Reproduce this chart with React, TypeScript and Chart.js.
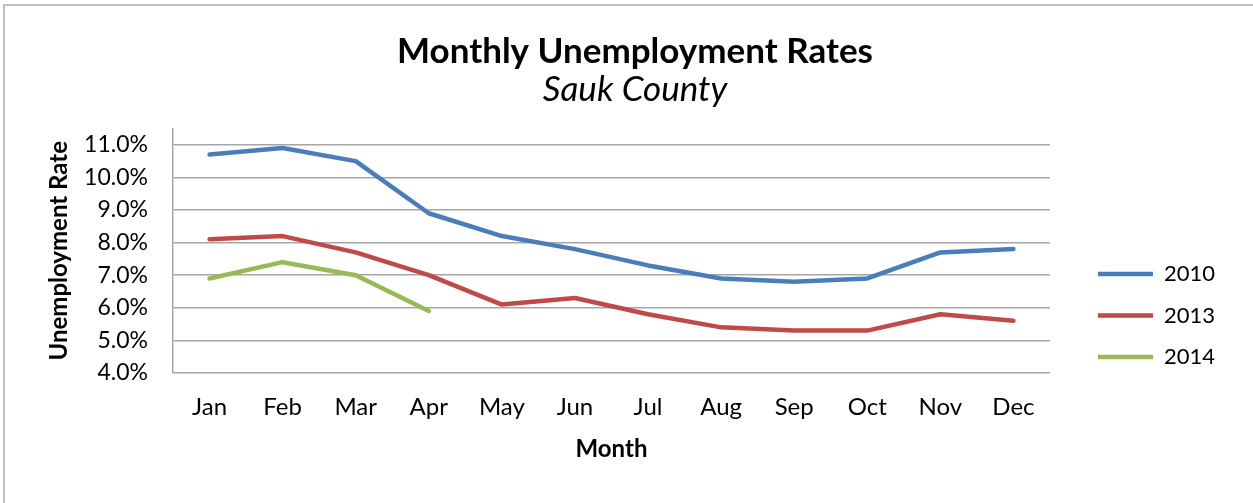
import React, { useEffect, useRef } from "react";
import { Chart, registerables } from "chart.js";

Chart.register(...registerables);

const months = ["Jan", "Feb", "Mar", "Apr", "May", "Jun", "Jul", "Aug", "Sep", "Oct", "Nov", "Dec"];
const rate2010 = [10.7, 10.9, 10.5, 8.9, 8.2, 7.8, 7.3, 6.9, 6.8, 6.9, 7.7, 7.8];
const rate2013 = [8.1, 8.2, 7.7, 7.0, 6.1, 6.3, 5.8, 5.4, 5.3, 5.3, 5.8, 5.6];
const rate2014 = [6.9, 7.4, 7.0, 5.9, null, null, null, null, null, null, null, null];
const yTicks = [4, 5, 6, 7, 8, 9, 10, 11];
const yMin = 4;
const yMax = 11.5;

const FONT = "Lato, 'Open Sans', sans-serif";

const borderPlugin = {
  id: "frameBorder",
  beforeDraw(chart: any) {
    const ctx = chart.ctx;
    ctx.save();
    ctx.fillStyle = "#ffffff";
    ctx.fillRect(0, 0, chart.width, chart.height);
    ctx.strokeStyle = "#bfbfbf";
    ctx.lineWidth = 2;
    ctx.beginPath();
    ctx.moveTo(4, chart.height);
    ctx.lineTo(4, 5);
    ctx.lineTo(chart.width, 5);
    ctx.stroke();
    ctx.restore();
  },
};

export default function App() {
  const ref = useRef<HTMLCanvasElement>(null);
  useEffect(() => {
    document.body.style.margin = "0";
    const line = (label: string, data: (number | null)[], color: string) => ({
      label,
      data,
      borderColor: color,
      backgroundColor: color,
      borderWidth: 4.5,
      borderCapStyle: "round" as const,
      borderJoinStyle: "round" as const,
      pointRadius: 0,
      tension: 0,
      spanGaps: false,
      yAxisID: "y",
    });
    const chart = new Chart(ref.current!, {
      type: "line",
      data: {
        labels: months,
        datasets: [
          line("2010", rate2010, "#4a7ebb"),
          line("2013", rate2013, "#be4b48"),
          line("2014", rate2014, "#98b954"),
        ],
      },
      options: {
        animation: false,
        responsive: false,
        maintainAspectRatio: false,
        layout: { padding: { left: 45, right: 28, top: 0, bottom: 39 } },
        plugins: {
          title: {
            display: true,
            text: "Monthly Unemployment Rates",
            color: "#000",
            font: { family: FONT, size: 35, weight: "bold", lineHeight: 1.05 },
            padding: { top: 33, bottom: 0 },
          },
          subtitle: {
            display: true,
            text: "Sauk County",
            color: "#000",
            font: { family: FONT, size: 35, style: "italic", weight: "normal", lineHeight: 1.05 },
            padding: { top: 2, bottom: 20 },
          },
          legend: {
            position: "right",
            align: "center",
            title: { display: true, text: "", font: { size: 10, lineHeight: 1.2 }, padding: { top: 155, bottom: 0 } },
            labels: {
              usePointStyle: true,
              pointStyle: "line",
              pointStyleWidth: 55,
              color: "#000",
              font: { family: FONT, size: 22 },
              padding: 19.5,
            },
          },
          tooltip: { enabled: false },
        },
        scales: {
          x: {
            offset: true,
            grid: { display: false, drawTicks: false },
            border: { display: false },
            ticks: { color: "#000", font: { family: FONT, size: 24 }, padding: 20 },
            title: { display: true, text: "Month", color: "#000", font: { family: FONT, size: 24, weight: "bold" }, padding: { top: 0, bottom: 0 } },
            afterFit: (scale: any) => {
              scale.height = 91;
            },
          },
          y: {
            min: yMin,
            max: yMax,
            afterBuildTicks: (scale: any) => {
              scale.ticks = yTicks.map((v) => ({ value: v }));
            },
            grid: { color: "#a6a6a6", lineWidth: 1.5, drawTicks: false },
            border: { display: true, color: "#a6a6a6", width: 1.5 },
            ticks: {
              color: "#000",
              font: { family: FONT, size: 23 },
              padding: 25,
              callback: (v: any) => Number(v).toFixed(1) + "%",
            },
            title: { display: true, text: "Unemployment Rate", color: "#000", font: { family: FONT, size: 24, weight: "bold" }, padding: { top: 0, bottom: 6 } },
            afterFit: (scale: any) => {
              scale.width = 128;
            },
          },
          spacer: {
            position: "right",
            display: true,
            grid: { display: false, drawTicks: false },
            border: { display: false },
            ticks: { display: false },
            afterFit: (scale: any) => {
              scale.width = 28.5;
            },
          },
        },
      },
      plugins: [borderPlugin],
    });
    return () => chart.destroy();
  }, []);
  return (
    <div style={{ position: "relative", width: 1253, height: 503 }}>
      <canvas ref={ref} width={1253} height={503} style={{ display: "block" }} />
    </div>
  );
}
